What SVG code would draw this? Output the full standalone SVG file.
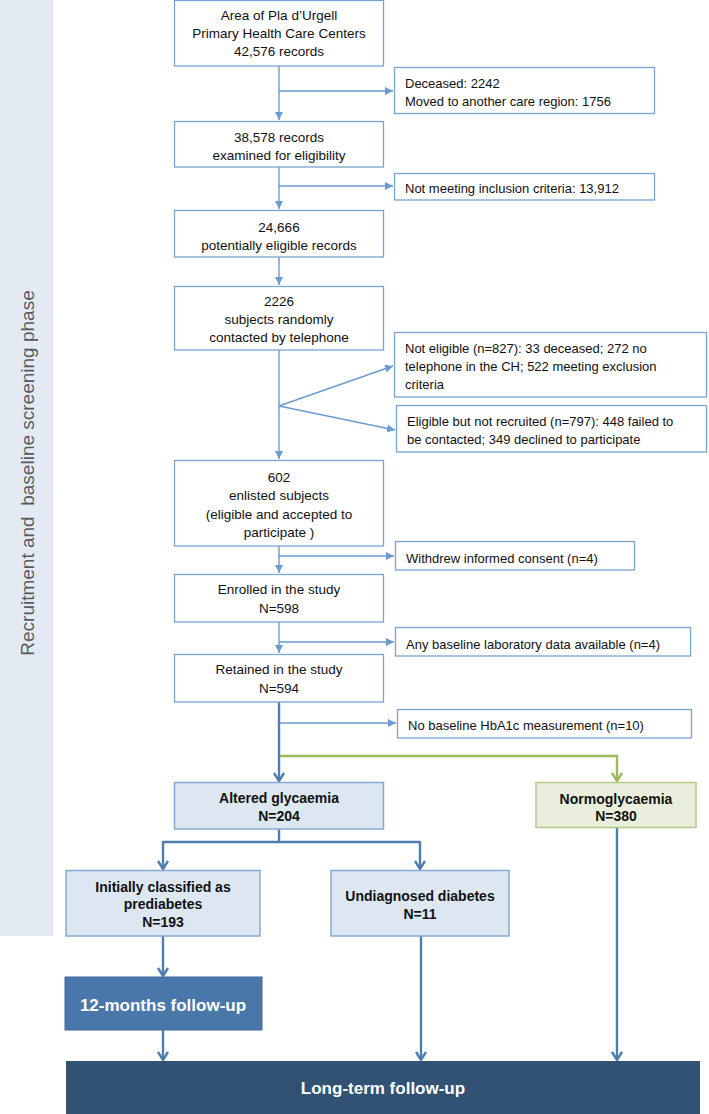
<svg xmlns="http://www.w3.org/2000/svg" width="709" height="1114" viewBox="0 0 709 1114">
<style>
.box{fill:#fff;stroke:#7aa3d0;stroke-width:1.3}
.lb{fill:#dde7f2;stroke:#86a9d2;stroke-width:1.5}
.gb{fill:#e9efdc;stroke:#b3c98b;stroke-width:1.5}
.t{font-family:"Liberation Sans",Arial,sans-serif;font-size:13.5px;fill:#111}
.tc{text-anchor:middle}
.s{font-family:"Liberation Sans",Arial,sans-serif;font-size:13px;fill:#111}
.b{font-family:"Liberation Sans",Arial,sans-serif;font-size:14px;font-weight:bold;fill:#111;text-anchor:middle}
.w{font-family:"Liberation Sans",Arial,sans-serif;font-size:17px;font-weight:bold;fill:#fff;text-anchor:middle}
.c{fill:none;stroke:#6a9bd1;stroke-width:1.4}
.k{fill:none;stroke:#4e7db0;stroke-width:2.4}
.g{fill:none;stroke:#9bbb59;stroke-width:2.4}
</style>
<defs>
<marker id="tri" viewBox="0 0 10 10" refX="10" refY="5" markerWidth="8" markerHeight="8" markerUnits="userSpaceOnUse" orient="auto"><path d="M0,0 L10,5 L0,10 z" fill="#6a9bd1"/></marker>
<marker id="chev" viewBox="0 0 12 12" refX="11" refY="6" markerWidth="12" markerHeight="12" markerUnits="userSpaceOnUse" orient="auto"><path d="M3,1 L11,6 L3,11" fill="none" stroke="#4e7db0" stroke-width="2.4"/></marker>
<marker id="chevg" viewBox="0 0 12 12" refX="11" refY="6" markerWidth="12" markerHeight="12" markerUnits="userSpaceOnUse" orient="auto"><path d="M3,1 L11,6 L3,11" fill="none" stroke="#9bbb59" stroke-width="2.4"/></marker>
</defs>

<g id="phase-band">
<rect x="0" y="0" width="53" height="936" fill="#e3eaf3"/>
<text transform="translate(34,473) rotate(-90)" text-anchor="middle" font-family="Liberation Sans, Arial, sans-serif" font-size="19" fill="#5a5a5a">Recruitment and&#160; baseline screening phase</text>
</g>

<g id="connectors">
<path class="c" d="M279,66 V120" marker-end="url(#tri)"/>
<path class="c" d="M279,91 H393" marker-end="url(#tri)"/>
<path class="c" d="M279,167 V209" marker-end="url(#tri)"/>
<path class="c" d="M279,186 H393" marker-end="url(#tri)"/>
<path class="c" d="M279,257 V285" marker-end="url(#tri)"/>
<path class="c" d="M279,350 V459" marker-end="url(#tri)"/>
<path class="c" d="M279,406 L393,366" marker-end="url(#tri)"/>
<path class="c" d="M279,406 L395,430" marker-end="url(#tri)"/>
<path class="c" d="M279,546 V573" marker-end="url(#tri)"/>
<path class="c" d="M279,556 H394" marker-end="url(#tri)"/>
<path class="c" d="M279,622 V653" marker-end="url(#tri)"/>
<path class="c" d="M279,642 H394" marker-end="url(#tri)"/>
<path class="c" d="M279,723 H396" marker-end="url(#tri)"/>
<path class="g" d="M279,756 H617 V781" marker-end="url(#chevg)"/>
<path class="k" d="M279,702 V781" marker-end="url(#chev)"/>
<path class="k" d="M279,829 V842"/>
<path class="k" d="M163,842 H420"/>
<path class="k" d="M163,841 V869" marker-end="url(#chev)"/>
<path class="k" d="M420,841 V869" marker-end="url(#chev)"/>
<path class="k" d="M163,936 V976" marker-end="url(#chev)"/>
<path class="k" d="M163,1030 V1060" marker-end="url(#chev)"/>
<path class="k" d="M421,936 V1060" marker-end="url(#chev)"/>
<path class="k" d="M617,828 V1060" marker-end="url(#chev)"/>
</g>

<g id="n1"><rect class="box" x="174.5" y="0.5" width="209" height="65.5"/>
<text class="t tc" x="279" y="20">Area of Pla d’Urgell</text>
<text class="t tc" x="279" y="38">Primary Health Care Centers</text>
<text class="t tc" x="279" y="56">42,576 records</text></g>

<g id="s1"><rect class="box" x="394.5" y="67.5" width="260" height="46"/>
<text class="s" x="405" y="88">Deceased: 2242</text>
<text class="s" x="405" y="106">Moved to another care region: 1756</text></g>

<g id="n2"><rect class="box" x="174.5" y="121.5" width="209" height="45.5"/>
<text class="t tc" x="279" y="142">38,578 records</text>
<text class="t tc" x="279" y="160">examined for eligibility</text></g>

<g id="s2"><rect class="box" x="394.5" y="173.5" width="260" height="26.5"/>
<text class="s" x="405" y="192.5">Not meeting inclusion criteria: 13,912</text></g>

<g id="n3"><rect class="box" x="174.5" y="210.5" width="209" height="46.5"/>
<text class="t tc" x="279" y="232">24,666</text>
<text class="t tc" x="279" y="250">potentially eligible records</text></g>

<g id="n4"><rect class="box" x="174.5" y="286.5" width="209" height="63.5"/>
<text class="t tc" x="279" y="306">2226</text>
<text class="t tc" x="279" y="324">subjects randomly</text>
<text class="t tc" x="279" y="342">contacted by telephone</text></g>

<g id="s3"><rect class="box" x="394.5" y="332.5" width="312" height="64.5"/>
<text class="s" x="405" y="353">Not eligible (n=827): 33 deceased; 272 no</text>
<text class="s" x="405" y="371">telephone in the CH; 522 meeting exclusion</text>
<text class="s" x="405" y="389">criteria</text></g>

<g id="s4"><rect class="box" x="396.5" y="405.5" width="310" height="46.5"/>
<text class="s" x="407" y="426">Eligible but not recruited (n=797): 448 failed to</text>
<text class="s" x="407" y="444">be contacted; 349 declined to participate</text></g>

<g id="n5"><rect class="box" x="174.5" y="460.5" width="209" height="85.5"/>
<text class="t tc" x="279" y="482">602</text>
<text class="t tc" x="279" y="500">enlisted subjects</text>
<text class="t tc" x="279" y="519">(eligible and accepted to</text>
<text class="t tc" x="279" y="537">participate )</text></g>

<g id="s5"><rect class="box" x="395.5" y="541.5" width="239" height="28.5"/>
<text class="s" x="406" y="563">Withdrew informed consent (n=4)</text></g>

<g id="n6"><rect class="box" x="174.5" y="574.5" width="209" height="47.5"/>
<text class="t tc" x="279" y="594">Enrolled in the study</text>
<text class="t tc" x="279" y="613">N=598</text></g>

<g id="s6"><rect class="box" x="395.5" y="627.5" width="295" height="28.5"/>
<text class="s" x="406" y="649">Any baseline laboratory data available (n=4)</text></g>

<g id="n7"><rect class="box" x="174.5" y="654.5" width="209" height="47.5"/>
<text class="t tc" x="279" y="674">Retained in the study</text>
<text class="t tc" x="279" y="693">N=594</text></g>

<g id="s7"><rect class="box" x="397.5" y="709.5" width="294" height="28.5"/>
<text class="s" x="408" y="730">No baseline HbA1c measurement (n=10)</text></g>

<g id="altered"><rect class="lb" x="174.5" y="782.5" width="209" height="46.5"/>
<text class="b" x="279" y="803">Altered glycaemia</text>
<text class="b" x="279" y="821">N=204</text></g>

<g id="normo"><rect class="gb" x="536" y="782.5" width="160" height="45"/>
<text class="b" x="616" y="804">Normoglycaemia</text>
<text class="b" x="616" y="821">N=380</text></g>

<g id="prediabetes"><rect class="lb" x="66" y="870.5" width="194" height="65.5"/>
<text class="b" x="163" y="892">Initially classified as</text>
<text class="b" x="163" y="909">prediabetes</text>
<text class="b" x="163" y="927">N=193</text></g>

<g id="undiagnosed"><rect class="lb" x="331" y="870.5" width="178" height="65.5"/>
<text class="b" x="420" y="901">Undiagnosed diabetes</text>
<text class="b" x="420" y="919">N=11</text></g>

<g id="fu12"><rect x="65" y="977" width="197" height="53" fill="#4a77a9" stroke="#4169a0" stroke-width="1"/>
<text class="w" x="163" y="1011">12-months follow-up</text></g>

<g id="longterm"><rect x="66" y="1061" width="634" height="53" fill="#315273"/>
<text class="w" x="383" y="1094">Long-term follow-up</text></g>
</svg>
